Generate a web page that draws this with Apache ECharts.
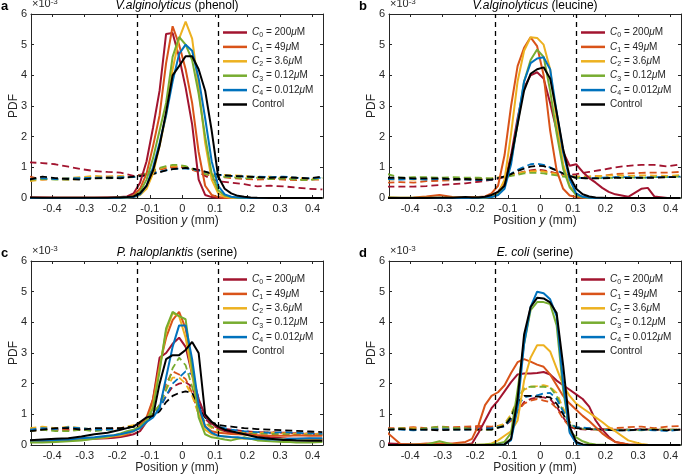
<!DOCTYPE html>
<html><head><meta charset="utf-8">
<script src="https://cdn.jsdelivr.net/npm/echarts@6/dist/echarts.min.js"></script>
<style>html,body{margin:0;padding:0;background:#fff}#c{width:683px;height:475px}</style>
</head><body><div id="c"></div>
<script>
// ---------- DATA ----------
const xSolid = [-0.47,-0.43,-0.39,-0.35,-0.31,-0.27,-0.23,-0.21,-0.19,-0.17,-0.15,-0.13,-0.11,-0.09,-0.07,-0.05,-0.03,-0.01,0.01,0.03,0.05,0.07,0.09,0.11,0.13,0.15,0.17,0.19,0.21,0.23,0.27,0.31,0.33,0.35,0.39,0.43];
const xDashed = [-0.47,-0.43,-0.39,-0.35,-0.31,-0.27,-0.23,-0.19,-0.15,-0.11,-0.09,-0.07,-0.05,-0.03,-0.01,0.01,0.03,0.05,0.07,0.09,0.11,0.15,0.19,0.23,0.27,0.31,0.35,0.39,0.43];
const xTicks = [-0.4,-0.3,-0.2,-0.1,0,0.1,0.2,0.3,0.4];
const seriesNames = ['C0 = 200μM','C1 = 49μM','C2 = 3.6μM','C3 = 0.12μM','C4 = 0.012μM','Control'];
const panelLetters = ['a','b','c','d'];
const panelSpecies = ['V.alginolyticus','V.alginolyticus','P. haloplanktis','E. coli'];
const panelAttractant = [' (phenol)',' (leucine)',' (serine)',' (serine)'];
const boundaryLines = [-0.143, 0.109];

// panel a (phenol) — solid
const aSolid0 = [0.02,0.02,0.01,0.01,0.01,0.01,0.02,0.02,0.03,0.05,0.15,0.5,1.2,2.3,3.5,5.35,5.38,4.6,3.6,2.4,0.6,0.1,0.03,0.01,0,0,0,0,0,0,0,0,0,0,0,0];
const aSolid1 = [0.01,0.01,0.01,0.01,0.01,0.01,0.01,0.01,0.02,0.02,0.08,0.3,0.8,1.7,2.7,4.4,5.6,5.0,4.2,3.1,1.5,0.4,0.1,0.03,0.01,0,0,0,0,0,0,0,0,0,0,0];
const aSolid2 = [0,0,0,0,0,0,0,0,0.01,0.02,0.03,0.1,0.3,0.8,1.7,2.7,4.2,5.2,5.75,5.2,3.6,1.8,0.6,0.15,0.04,0.01,0,0,0,0,0,0,0,0,0,0];
const aSolid3 = [0,0,0,0,0,0,0,0,0.01,0.02,0.05,0.2,0.6,1.3,2.2,3.1,4.6,5.25,5.0,4.5,3.4,2.0,0.8,0.25,0.08,0.03,0.01,0,0,0,0,0,0,0,0,0];
const aSolid4 = [0,0,0,0,0,0,0,0,0.01,0.02,0.03,0.12,0.4,1.0,1.8,2.7,3.8,4.7,5.0,4.8,3.9,2.6,1.2,0.4,0.12,0.04,0.02,0.01,0,0,0,0,0,0,0,0];
const aSolid5 = [0.02,0.01,0.01,0.01,0.01,0.01,0.01,0.02,0.02,0.03,0.05,0.15,0.4,0.9,1.7,2.8,4.0,4.3,4.62,4.62,4.2,3.5,2.2,0.7,0.3,0.15,0.07,0.04,0.02,0.01,0,0,0,0,0,0];
// panel a — dashed
const aDash0 = [1.16,1.14,1.1,1.02,0.94,0.88,0.85,0.83,0.72,0.8,0.88,0.95,1.0,1.02,1.02,1.0,0.95,0.85,0.72,0.62,0.55,0.5,0.45,0.38,0.4,0.38,0.34,0.3,0.28];
const aDash1 = [0.7,0.6,0.62,0.6,0.62,0.65,0.7,0.7,0.68,0.78,0.85,0.92,0.97,1.0,1.02,0.98,0.92,0.85,0.78,0.72,0.7,0.65,0.62,0.6,0.62,0.6,0.58,0.6,0.6];
const aDash2 = [0.55,0.6,0.62,0.65,0.68,0.72,0.7,0.72,0.68,0.78,0.88,0.96,1.02,1.05,1.05,1.02,0.95,0.88,0.82,0.78,0.76,0.75,0.72,0.68,0.7,0.65,0.66,0.62,0.62];
const aDash3 = [0.6,0.62,0.6,0.6,0.62,0.65,0.64,0.66,0.68,0.8,0.9,0.98,1.04,1.08,1.08,1.04,0.96,0.88,0.78,0.72,0.7,0.68,0.64,0.66,0.62,0.64,0.6,0.58,0.66];
const aDash4 = [0.62,0.64,0.62,0.64,0.65,0.66,0.66,0.68,0.68,0.74,0.8,0.86,0.9,0.94,0.96,0.96,0.94,0.9,0.85,0.8,0.76,0.72,0.7,0.7,0.68,0.7,0.66,0.64,0.66];
const aDash5 = [0.6,0.7,0.65,0.62,0.6,0.64,0.66,0.64,0.7,0.74,0.78,0.84,0.9,0.94,0.96,0.98,0.96,0.92,0.86,0.8,0.76,0.72,0.7,0.68,0.66,0.68,0.66,0.64,0.7];

// panel b (leucine) — solid
const bSolid0 = [0,0,0,0,0,0,0,0.01,0.02,0.03,0.08,0.2,0.5,1.4,2.6,3.6,4.0,4.1,3.9,3.1,2.2,1.5,1.05,1.1,0.85,0.65,0.5,0.33,0.2,0.12,0.04,0.3,0.33,0.05,0,0];
const bSolid1 = [0.02,0.01,0.02,0.05,0.1,0.03,0.02,0.03,0.03,0.05,0.15,0.4,1.4,3.0,4.3,4.9,5.24,4.95,4.0,2.2,0.9,0.3,0.08,0.03,0.01,0,0,0,0,0,0,0,0,0,0,0];
const bSolid2 = [0,0,0,0,0,0,0,0,0.01,0.02,0.05,0.15,0.6,2.1,3.8,4.8,5.24,5.22,5.0,4.2,2.5,1.1,0.4,0.1,0.03,0.01,0,0,0,0,0,0,0,0,0,0];
const bSolid3 = [0.02,0.01,0.01,0.01,0.01,0.01,0.01,0.01,0.01,0.02,0.03,0.12,0.4,1.2,2.4,3.8,4.5,4.84,4.6,3.5,2.1,0.95,0.35,0.1,0.03,0.01,0,0,0,0,0,0,0,0,0,0];
const bSolid4 = [0,0,0,0,0,0,0,0,0.01,0.02,0.03,0.1,0.3,1.1,2.5,3.8,4.4,4.55,4.59,4.2,2.8,1.5,0.6,0.15,0.04,0.01,0,0,0,0,0,0,0,0,0,0];
const bSolid5 = [0,0,0,0,0.01,0.01,0.03,0.02,0.02,0.04,0.1,0.2,0.4,1.3,2.4,3.5,4.05,4.2,4.26,3.9,2.8,1.6,0.7,0.3,0.12,0.05,0.02,0.01,0,0,0,0,0,0,0,0];
// panel b — dashed
const bDash0 = [0.37,0.37,0.37,0.39,0.42,0.45,0.48,0.53,0.59,0.68,0.74,0.8,0.86,0.9,0.93,0.9,0.86,0.8,0.76,0.75,0.78,0.85,0.92,1.0,1.05,1.08,1.08,1.03,1.1];
const bDash1 = [0.5,0.52,0.5,0.55,0.56,0.58,0.6,0.6,0.62,0.7,0.75,0.8,0.85,0.88,0.9,0.88,0.84,0.8,0.75,0.72,0.7,0.7,0.72,0.78,0.8,0.82,0.83,0.83,0.85];
const bDash2 = [0.6,0.62,0.6,0.62,0.62,0.6,0.62,0.62,0.64,0.7,0.75,0.8,0.84,0.86,0.88,0.86,0.82,0.78,0.74,0.72,0.7,0.7,0.72,0.74,0.72,0.74,0.73,0.72,0.75];
const bDash3 = [0.78,0.66,0.68,0.68,0.66,0.68,0.66,0.66,0.64,0.68,0.72,0.76,0.8,0.82,0.82,0.8,0.77,0.74,0.7,0.68,0.66,0.66,0.65,0.66,0.67,0.66,0.68,0.68,0.7];
const bDash4 = [0.62,0.6,0.62,0.6,0.62,0.6,0.6,0.58,0.6,0.7,0.8,0.92,1.02,1.1,1.12,1.08,1.0,0.9,0.8,0.72,0.66,0.64,0.66,0.68,0.68,0.66,0.68,0.68,0.7];
const bDash5 = [0.66,0.66,0.64,0.64,0.64,0.62,0.62,0.6,0.6,0.7,0.78,0.88,0.96,1.02,1.05,1.04,0.98,0.9,0.8,0.72,0.66,0.64,0.64,0.66,0.65,0.66,0.66,0.68,0.68];

// panel c (P. haloplanktis, serine) — solid
const cSolid0 = [0.1,0.1,0.12,0.15,0.18,0.2,0.22,0.24,0.26,0.3,0.35,0.45,0.75,1.5,2.85,3.0,3.3,3.5,3.2,2.3,1.5,0.95,0.7,0.55,0.45,0.4,0.38,0.36,0.34,0.3,0.25,0.22,0.2,0.2,0.2,0.18];
const cSolid1 = [0.15,0.15,0.18,0.2,0.2,0.22,0.25,0.28,0.3,0.35,0.45,0.65,0.9,1.5,2.6,3.5,4.07,4.34,3.8,2.6,1.2,0.6,0.45,0.4,0.38,0.36,0.35,0.34,0.33,0.32,0.3,0.3,0.3,0.32,0.3,0.3];
const cSolid2 = [0.12,0.14,0.15,0.18,0.2,0.22,0.25,0.3,0.32,0.38,0.45,0.55,0.75,1.3,2.5,3.7,4.3,4.2,3.5,2.3,1.0,0.5,0.35,0.3,0.28,0.25,0.22,0.2,0.2,0.18,0.18,0.2,0.18,0.18,0.2,0.2];
const cSolid3 = [0.08,0.08,0.1,0.12,0.15,0.2,0.28,0.32,0.38,0.45,0.5,0.6,0.8,1.2,2.4,3.8,4.34,4.2,4.1,2.5,0.9,0.35,0.25,0.22,0.18,0.15,0.2,0.25,0.2,0.15,0.12,0.1,0.1,0.08,0.08,0.1];
const cSolid4 = [0.15,0.15,0.16,0.18,0.22,0.25,0.3,0.32,0.35,0.4,0.45,0.55,0.75,0.9,1.2,2.2,3.2,3.9,3.9,2.8,1.3,0.6,0.4,0.3,0.28,0.26,0.25,0.22,0.2,0.2,0.18,0.18,0.2,0.2,0.22,0.22];
const cSolid5 = [0.15,0.18,0.2,0.22,0.28,0.35,0.4,0.45,0.5,0.55,0.6,0.75,0.9,0.95,2.0,2.8,2.93,2.93,3.1,3.36,3.0,1.0,0.75,0.6,0.5,0.45,0.4,0.35,0.3,0.25,0.2,0.16,0.16,0.15,0.14,0.14];
// panel c — dashed
const cDash0 = [0.45,0.5,0.5,0.5,0.5,0.5,0.52,0.55,0.6,0.8,0.95,1.2,1.6,1.9,2.0,2.05,1.9,1.3,0.85,0.65,0.55,0.5,0.45,0.42,0.4,0.4,0.38,0.36,0.35];
const cDash1 = [0.5,0.52,0.5,0.48,0.5,0.5,0.52,0.55,0.62,0.85,1.0,1.3,2.0,2.4,2.3,2.15,1.7,1.0,0.7,0.58,0.5,0.45,0.42,0.4,0.42,0.4,0.38,0.38,0.36];
const cDash2 = [0.55,0.6,0.55,0.6,0.55,0.5,0.52,0.55,0.65,0.85,1.0,1.25,1.8,2.2,2.2,2.0,1.6,1.0,0.7,0.55,0.48,0.42,0.4,0.38,0.4,0.38,0.36,0.36,0.35];
const cDash3 = [0.45,0.5,0.45,0.45,0.5,0.45,0.5,0.52,0.6,0.85,1.05,1.3,1.8,2.5,2.85,2.6,1.9,1.1,0.75,0.6,0.5,0.42,0.38,0.36,0.36,0.35,0.34,0.33,0.32];
const cDash4 = [0.5,0.55,0.52,0.58,0.55,0.5,0.5,0.52,0.6,0.8,0.95,1.2,1.6,2.0,2.2,2.4,2.3,1.5,0.9,0.7,0.6,0.5,0.45,0.42,0.4,0.42,0.4,0.38,0.36];
const cDash5 = [0.45,0.5,0.55,0.55,0.5,0.55,0.55,0.55,0.6,0.8,0.95,1.1,1.4,1.6,1.7,1.75,1.7,1.3,0.9,0.75,0.65,0.6,0.55,0.52,0.5,0.48,0.46,0.44,0.42];

// panel d (E. coli, serine) — solid
const dSolid0 = [0.05,0.03,0.02,0.02,0.02,0.02,0.02,0.05,0.4,0.8,1.2,1.45,1.75,2.05,2.3,2.33,2.33,2.35,2.38,2.3,2.1,1.95,1.8,1.65,1.5,1.25,0.8,0.5,0.27,0.1,0.02,0,0,0,0,0];
const dSolid1 = [0.4,0.03,0.02,0.05,0.05,0.05,0.1,0.2,0.65,1.3,1.6,1.72,1.95,2.35,2.7,2.8,2.72,2.62,2.55,2.3,1.95,1.6,1.35,1.15,0.95,0.78,0.58,0.38,0.22,0.1,0.02,0,0,0,0,0];
const dSolid2 = [0,0,0,0,0,0,0,0,0.01,0.02,0.05,0.15,0.3,0.45,0.8,2.1,2.85,3.25,3.25,3.05,2.5,1.95,1.6,1.35,1.2,1.05,0.9,0.75,0.58,0.45,0.15,0.03,0.01,0,0,0];
const dSolid3 = [0,0,0.01,0.02,0.12,0.02,0.01,0.01,0.01,0.02,0.03,0.05,0.1,0.4,1.8,3.3,4.4,4.66,4.66,4.6,3.9,1.8,0.45,0.25,0.12,0.05,0.02,0.01,0,0,0,0,0,0,0,0];
const dSolid4 = [0,0,0,0,0,0,0,0,0,0,0,0.01,0.02,0.16,1.2,3.3,4.5,5.0,4.95,4.75,4.2,2.0,0.4,0.06,0.01,0,0,0,0,0,0,0,0,0,0,0];
const dSolid5 = [0,0,0,0,0,0,0,0,0,0,0,0.01,0.02,0.2,1.5,3.6,4.5,4.8,4.78,4.65,4.3,2.6,0.6,0.1,0.02,0,0,0,0,0,0,0,0,0,0,0];
// panel d — dashed
const dDash0 = [0.5,0.52,0.55,0.5,0.52,0.55,0.55,0.6,0.55,0.62,0.8,1.1,1.4,1.5,1.55,1.55,1.5,1.25,0.9,0.6,0.52,0.5,0.52,0.5,0.5,0.52,0.5,0.5,0.5];
const dDash1 = [0.55,0.55,0.58,0.55,0.6,0.58,0.6,0.62,0.6,0.65,0.8,1.1,1.35,1.45,1.5,1.45,1.4,1.2,0.85,0.6,0.55,0.55,0.52,0.55,0.58,0.6,0.55,0.6,0.62];
const dDash2 = [0.5,0.52,0.55,0.5,0.52,0.5,0.52,0.5,0.52,0.7,1.0,1.5,1.8,1.9,1.92,1.95,1.9,1.7,1.2,0.75,0.58,0.52,0.5,0.5,0.48,0.5,0.52,0.5,0.5];
const dDash3 = [0.5,0.55,0.5,0.55,0.6,0.55,0.55,0.5,0.5,0.65,0.95,1.5,1.85,1.9,1.9,1.9,1.88,1.6,1.1,0.7,0.55,0.52,0.5,0.48,0.5,0.48,0.5,0.5,0.5];
const dDash4 = [0.5,0.5,0.48,0.5,0.52,0.5,0.5,0.52,0.55,0.6,0.85,1.3,1.55,1.6,1.62,1.68,1.7,1.5,1.1,0.7,0.58,0.55,0.5,0.48,0.48,0.5,0.48,0.46,0.5];
const dDash5 = [0.5,0.52,0.5,0.5,0.48,0.5,0.5,0.5,0.5,0.62,0.9,1.4,1.6,1.6,1.58,1.58,1.55,1.35,1.0,0.65,0.55,0.52,0.5,0.48,0.48,0.5,0.5,0.48,0.5];

// ---------- BUILD ----------
const solidSets = [
  [aSolid0,aSolid1,aSolid2,aSolid3,aSolid4,aSolid5],
  [bSolid0,bSolid1,bSolid2,bSolid3,bSolid4,bSolid5],
  [cSolid0,cSolid1,cSolid2,cSolid3,cSolid4,cSolid5],
  [dSolid0,dSolid1,dSolid2,dSolid3,dSolid4,dSolid5]
];
const dashSets = [
  [aDash0,aDash1,aDash2,aDash3,aDash4,aDash5],
  [bDash0,bDash1,bDash2,bDash3,bDash4,bDash5],
  [cDash0,cDash1,cDash2,cDash3,cDash4,cDash5],
  [dDash0,dDash1,dDash2,dDash3,dDash4,dDash5]
];
const colors = ['#A2142F','#D95319','#EDB120','#77AC30','#0072BD','#000000'];
const FONT = "'Liberation Sans', Arial, Helvetica, sans-serif";
const AX = '#262626';
const layout = [
  {left:31, top:14},
  {left:389, top:14},
  {left:31, top:261},
  {left:389, top:261}
];
const PW = 292, PH = 184;
const XMIN = -0.465, XMAX = 0.432;

const grids = [], xAxes = [], yAxes = [], series = [], legends = [], graphics = [];
function fmtX(v){ return Math.abs(v) < 1e-9 ? '0' : v.toFixed(1); }

layout.forEach((L, i) => {
  grids.push({left:L.left, top:L.top, width:PW, height:PH, containLabel:false});
  const lineS = {show:true, onZero:false, lineStyle:{color:AX, width:1}};
  const tickS = {show:true, inside:true, length:3, customValues:xTicks, lineStyle:{color:AX, width:1}};
  xAxes.push({type:'value', gridIndex:i, min:XMIN, max:XMAX, position:'bottom',
    axisLine:lineS, axisTick:tickS,
    axisLabel:{show:true, customValues:xTicks, fontSize:11, color:AX, margin:5, fontFamily:FONT, formatter:fmtX},
    splitLine:{show:false}});
  xAxes.push({type:'value', gridIndex:i, min:XMIN, max:XMAX, position:'top',
    axisLine:lineS, axisTick:tickS, axisLabel:{show:false}, splitLine:{show:false}});
  yAxes.push({type:'value', gridIndex:i, min:0, max:6, interval:1, position:'left',
    axisLine:lineS, axisTick:{show:true, inside:true, length:3, lineStyle:{color:AX}},
    axisLabel:{fontSize:11, color:AX, margin:4, fontFamily:FONT}, splitLine:{show:false}});
  yAxes.push({type:'value', gridIndex:i, min:0, max:6, interval:1, position:'right',
    axisLine:lineS, axisTick:{show:true, inside:true, length:3, lineStyle:{color:AX}},
    axisLabel:{show:false}, splitLine:{show:false}});

  dashSets[i].forEach((arr, k) => {
    const s = {type:'line', name:'dash-'+i+'-'+k, xAxisIndex:2*i, yAxisIndex:2*i,
      data: xDashed.map((x, j) => [x, arr[j]]), symbol:'none', showSymbol:false, silent:true, z:2,
      lineStyle:{color:colors[k], width:1.8, type:[7,4]}, itemStyle:{color:colors[k]}};
    if (k === 0) {
      s.markLine = {silent:true, symbol:'none', label:{show:false},
        lineStyle:{color:'#000', width:1.3, type:[5,4]},
        data: boundaryLines.map(v => ({xAxis:v}))};
    }
    series.push(s);
  });
  solidSets[i].forEach((arr, k) => {
    series.push({type:'line', name:seriesNames[k], xAxisIndex:2*i, yAxisIndex:2*i,
      data: xSolid.map((x, j) => [x, arr[j]]), symbol:'none', showSymbol:false, silent:true, z:3,
      lineStyle:{color:colors[k], width:2}, itemStyle:{color:colors[k]}});
  });

  legends.push({data:seriesNames.map((n, k) => ({name:n, icon:'rect', itemStyle:{color:colors[k]}})),
    orient:'vertical', left:L.left+192, top:L.top+12,
    itemWidth:24, itemHeight:2.5, itemGap:1.4, padding:0, selectedMode:false,
    textStyle:{fontSize:10, color:AX, fontFamily:FONT, lineHeight:13,
      rich:{
        c:{fontStyle:'italic', fontSize:10, lineHeight:13, fontFamily:FONT, color:AX},
        s:{fontSize:7, lineHeight:9, verticalAlign:'bottom', fontFamily:FONT, color:AX},
        t:{fontSize:10, lineHeight:13, fontFamily:FONT, color:AX}
      }},
    formatter: name => {
      if (name === 'Control') return '{t|Control}';
      const m = name.match(/^C(\d) = ([\d.]+)μM$/);
      return '{c|C}{s|' + m[1] + '}{t| = ' + m[2] + '}{c|μ}{t|M}';
    }});

  const cx = L.left + PW/2;
  graphics.push({type:'text', x:L.left - 30, y:L.top - 8, style:{text:panelLetters[i], font:'bold 13px ' + FONT, fill:'#000', verticalAlign:'middle'}});
  graphics.push({type:'text', x:cx, y:L.top - 8, style:{
    text:'{i|' + panelSpecies[i] + '}{n|' + panelAttractant[i] + '}', align:'center', verticalAlign:'middle',
    rich:{i:{fontStyle:'italic', fontSize:12, fontFamily:FONT, fill:'#000'}, n:{fontSize:12, fontFamily:FONT, fill:'#000'}}}});
  graphics.push({type:'text', x:L.left + 1, y:L.top - 10, style:{
    text:'{b|×10}{p|-3}', verticalAlign:'middle',
    rich:{b:{fontSize:11, fontFamily:FONT, fill:AX, lineHeight:13}, p:{fontSize:8, fontFamily:FONT, fill:AX, verticalAlign:'top', lineHeight:9}}}});
  graphics.push({type:'text', x:L.left - 17, y:L.top + PH/2, rotation:Math.PI/2, style:{
    text:'PDF', font:'12px ' + FONT, fill:AX, align:'center', verticalAlign:'middle'}});
  graphics.push({type:'text', x:cx, y:L.top + PH + 23, style:{
    text:'{n|Position }{i|y}{n| (mm)}', align:'center', verticalAlign:'middle',
    rich:{i:{fontStyle:'italic', fontSize:12, fontFamily:FONT, fill:AX}, n:{fontSize:12, fontFamily:FONT, fill:AX}}}});
});

const chart = echarts.init(document.getElementById('c'), null, {renderer:'canvas'});
chart.setOption({
  animation:false,
  backgroundColor:'#fff',
  textStyle:{fontFamily:FONT},
  grid:grids, xAxis:xAxes, yAxis:yAxes, series:series, legend:legends, graphic:graphics
});
</script></body></html>
